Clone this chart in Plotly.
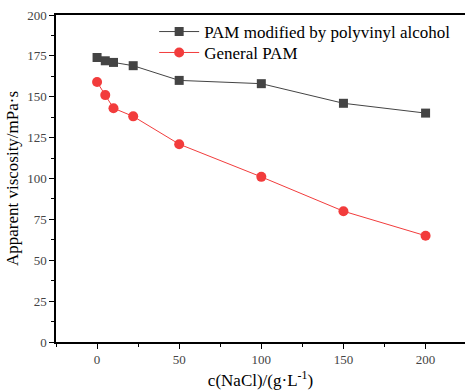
import plotly.graph_objects as go

nacl = [0, 5, 10, 22, 50, 100, 150, 200]
pam_pva = [174, 172, 171, 169, 160, 158, 146, 140]
pam_general = [159, 151, 143, 138, 121, 101, 80, 65]

x_ticks = [0, 50, 100, 150, 200]
y_ticks = [0, 25, 50, 75, 100, 125, 150, 175, 200]

font_family = "Liberation Serif"

fig = go.Figure()
fig.add_trace(go.Scatter(
    x=nacl, y=pam_pva, mode="lines+markers",
    name="PAM modified by polyvinyl alcohol",
    line=dict(color="#444444", width=1),
    marker=dict(symbol="square", size=9, color="#444444"),
    legend="legend",
))
fig.add_trace(go.Scatter(
    x=nacl, y=pam_general, mode="lines+markers",
    name="General PAM",
    line=dict(color="#f23c3c", width=1),
    marker=dict(symbol="circle", size=10, color="#f23c3c"),
    legend="legend2",
))

axis_common = dict(
    showgrid=False, zeroline=False, showline=True, linecolor="black", linewidth=1.5,
    ticks="outside", ticklen=5, tickwidth=1.2, tickcolor="black",
    tickfont=dict(family=font_family, size=13, color="#444444"),
)

legend_common = dict(xanchor="left", yanchor="middle", bgcolor="rgba(0,0,0,0)",
                     font=dict(family=font_family, size=17, color="black"),
                     itemwidth=40)

fig.update_layout(
    width=465, height=390,
    margin=dict(l=56, r=0, t=15, b=48),
    paper_bgcolor="white", plot_bgcolor="white",
    font=dict(family=font_family, color="black"),
    showlegend=True,
    legend=dict(legend_common, x=0.24, y=0.948),
    legend2=dict(legend_common, x=0.24, y=0.884),
    xaxis=dict(axis_common, mirror=True, range=[-25, 224], tickvals=x_ticks,
               minor=dict(ticks="outside", ticklen=3, tickwidth=1, tickcolor="black", dtick=25, tick0=-25),
               title=dict(text="c(NaCl)/(g·L<sup>-1</sup>)", font=dict(family=font_family, size=17, color="black"), standoff=8)),
    yaxis=dict(axis_common, mirror=False, range=[0, 200], tickvals=y_ticks,
               minor=dict(ticks="outside", ticklen=3, tickwidth=1, tickcolor="black", dtick=12.5, tick0=0),
               title=dict(text="Apparent viscosity/mPa·s", font=dict(family=font_family, size=17, color="black"), standoff=4)),
)

fig.write_html("out.html", config={"displayModeBar": False},
               post_script="document.body.style.margin='0';")
